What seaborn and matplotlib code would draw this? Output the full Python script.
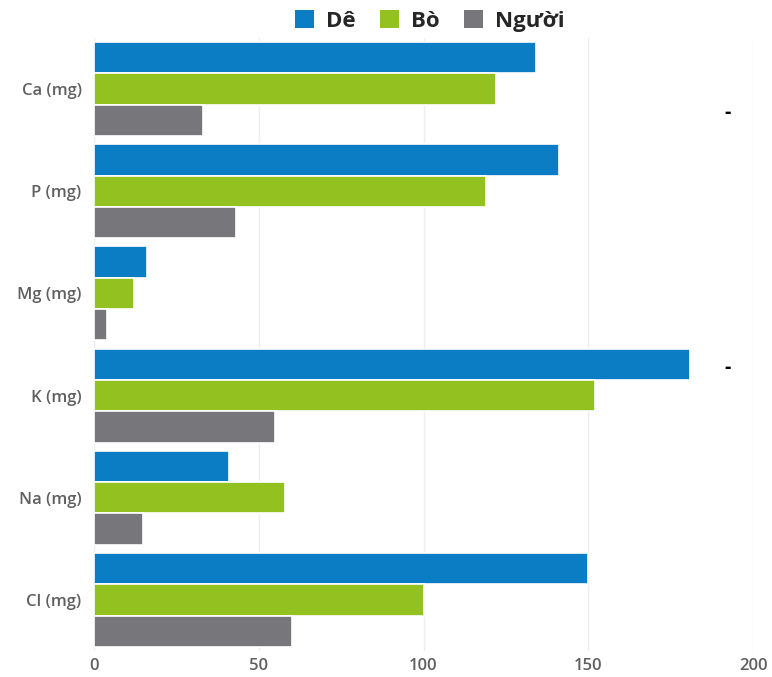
import pandas as pd
import seaborn as sns
import matplotlib.pyplot as plt
from matplotlib.patches import Patch

minerals = ["Ca (mg)", "P (mg)", "Mg (mg)", "K (mg)", "Na (mg)", "Cl (mg)"]
groups = ["Dê", "Bò", "Người"]
de = [134, 141, 16, 181, 41, 150]
bo = [122, 119, 12, 152, 58, 100]
nguoi = [33, 43, 4, 55, 15, 60]
colors = ["#0b7dc5", "#92c120", "#77767b"]

rows = []
for name, vals in zip(groups, [de, bo, nguoi]):
    for m, v in zip(minerals, vals):
        rows.append({"mineral": m, "value": v, "group": name})
df = pd.DataFrame(rows)

sns.set_style("white")
plt.rcParams["font.family"] = ["Open Sans", "DejaVu Sans"]

fig = plt.figure(figsize=(7.72, 6.77), dpi=100)
ax = fig.add_axes([94 / 772, 1 - 651 / 677, (753 - 94) / 772, (651 - 38) / 677])

sns.barplot(data=df, x="value", y="mineral", hue="group", order=minerals,
            hue_order=groups, palette=colors, orient="h", width=0.92,
            edgecolor="white", linewidth=1.2, saturation=1, ax=ax, legend=False)

ax.set_xlim(0, 200)
ax.set_xticks([0, 50, 100, 150, 200])
ax.set_xlabel("")
ax.set_ylabel("")
ax.xaxis.grid(True, color="#efefef", linewidth=1)
ax.set_axisbelow(True)
sns.despine(ax=ax, left=True, bottom=True, top=True, right=True)
ax.tick_params(axis="both", length=0, labelsize=12, labelcolor="#606060")
ax.tick_params(axis="y", pad=9)
ax.tick_params(axis="x", pad=5)
for lbl in ax.get_xticklabels() + ax.get_yticklabels():
    lbl.set_fontweight("semibold")

handles = [Patch(facecolor=c, edgecolor="none") for c in colors]
fig.legend(handles, groups, loc="center", bbox_to_anchor=(430 / 772, 1 - 21 / 677),
           ncol=3, frameon=False, handlelength=0.85, handleheight=0.85,
           handletextpad=0.55, columnspacing=1.1,
           prop={"weight": "bold", "size": 16})

fig.text(728 / 772, 1 - 113 / 677, "-", ha="center", va="center",
         fontsize=14, fontweight="bold", color="black")
fig.text(728 / 772, 1 - 368 / 677, "-", ha="center", va="center",
         fontsize=14, fontweight="bold", color="black")

fig.savefig("out.png", dpi=100)
